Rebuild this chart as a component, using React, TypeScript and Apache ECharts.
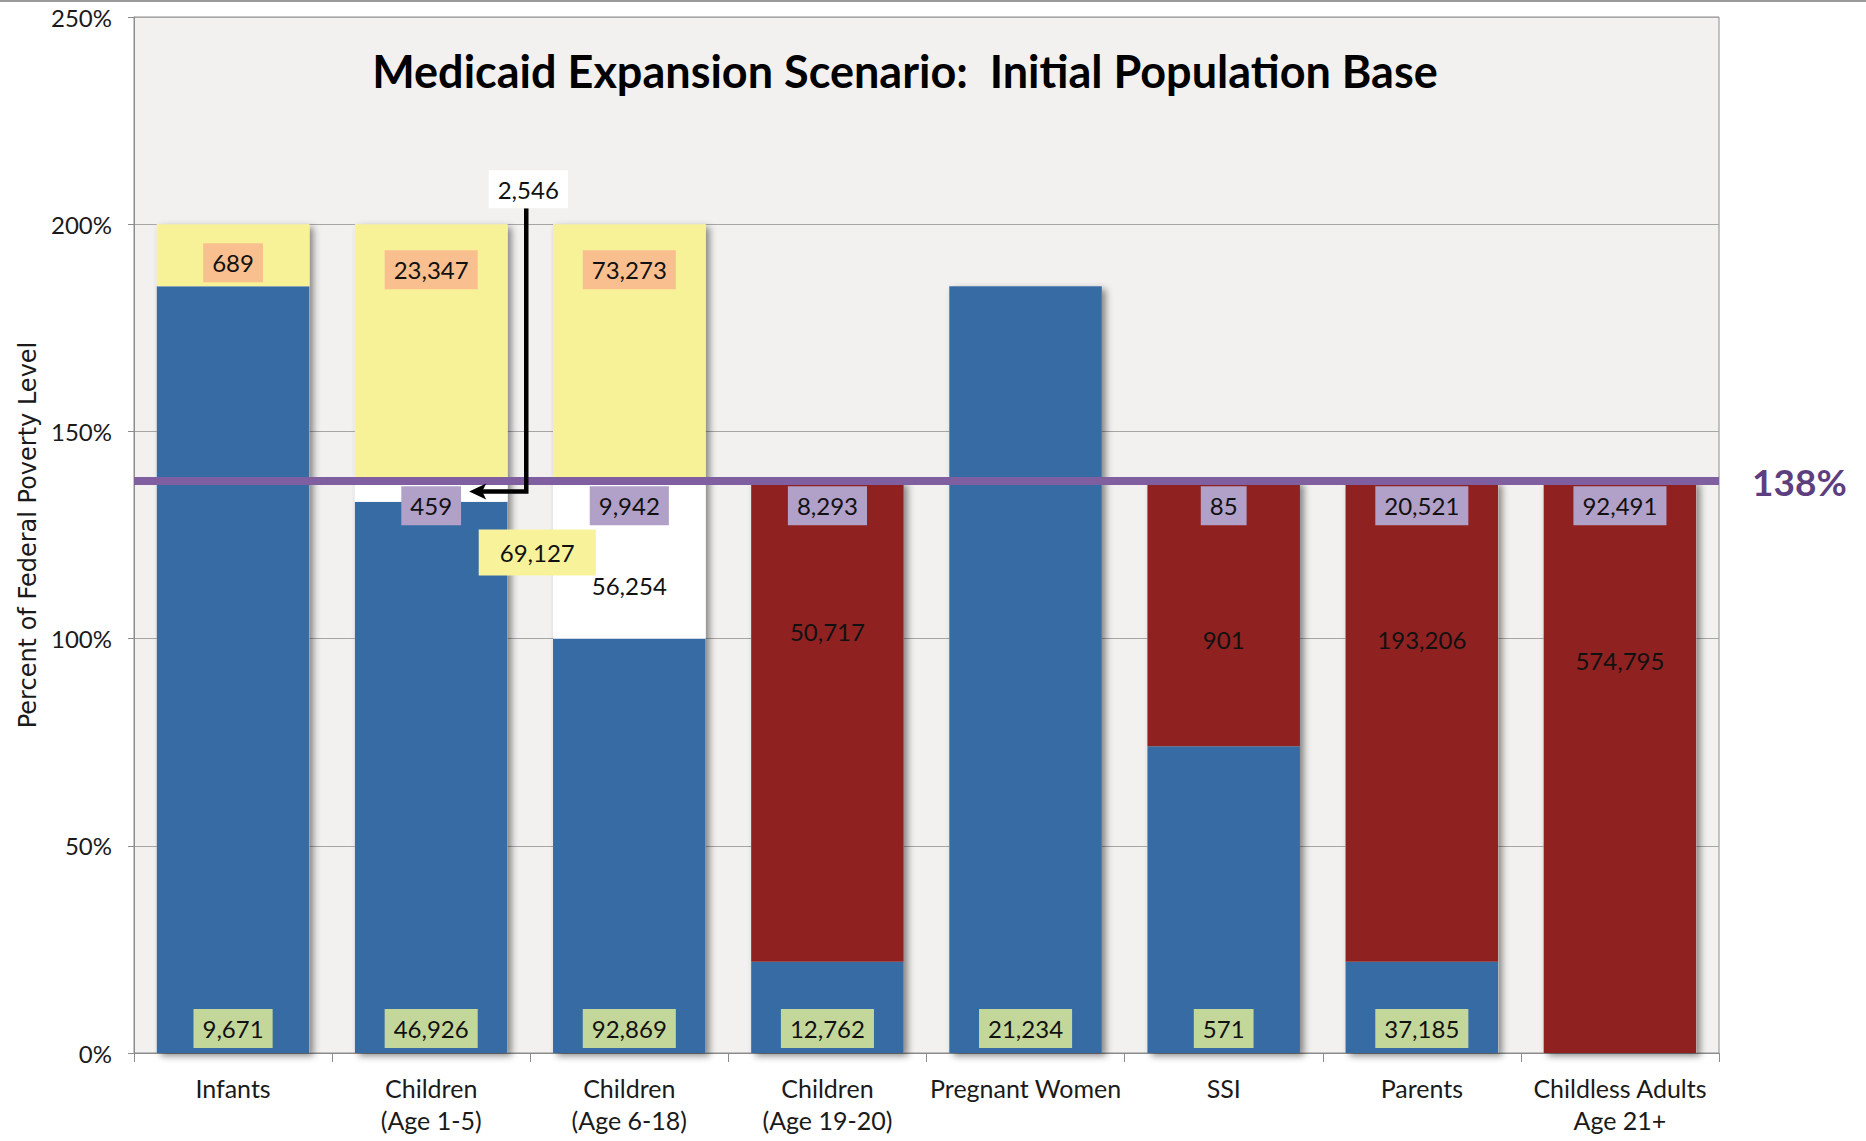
import React, { useEffect, useRef } from 'react';
import * as echarts from 'echarts';

// ---------- Data ----------
const categories = [
  'Infants',
  'Children\n(Age 1-5)',
  'Children\n(Age 6-18)',
  'Children\n(Age 19-20)',
  'Pregnant Women',
  'SSI',
  'Parents',
  'Childless Adults\nAge 21+',
];

// Segment heights in percent of FPL
const currentCoverage = [185, 133, 100, 22, 185, 74, 22, 0]; // blue
const gapToThreshold = [0, 5, 38, 0, 0, 0, 0, 0]; // white
const newlyEligible = [0, 0, 0, 116, 0, 64, 116, 138]; // dark red
const chipAbove = [15, 62, 62, 0, 0, 0, 0, 0]; // yellow
const EXPANSION_LEVEL = 138;

// Population counts shown on the bars
const coveredCounts = [9671, 46926, 92869, 12762, 21234, 571, 37185, null];
const midCounts = [null, null, 56254, 50717, null, 901, 193206, 574795];
const thresholdCounts = [null, 459, 9942, 8293, null, 85, 20521, 92491];
const chipCounts = [689, 23347, 73273, null, null, null, null, null];
const calloutCount = 2546;
const floatingCount = 69127;
const calloutTarget = [1, 135.5]; // category index, % FPL (white segment of Age 1-5)

const yTicks = [0, 50, 100, 150, 200, 250];

// ---------- Styles ----------
const FONT = 'Lato';
const C_BLUE = '#376ba4';
const C_RED = '#8f2121';
const C_YELLOW = '#f7f197';
const C_WHITE = '#ffffff';
const C_BG = '#f2f1f0';
const midLabelOffsets = [0, 0, 104, 150, 0, 158, 158, 179];
const chipLabelDistance = [19, 26, 26, 0, 0, 0, 0, 0];

const fmt = (n: number) => n.toLocaleString('en-US');

const boxLabel = (bg: string) => ({
  show: true,
  color: '#111',
  fontFamily: FONT,
  fontSize: 24,
  lineHeight: 25,
  backgroundColor: bg,
  padding: [7, 9, 7, 9],
});

const totals = categories.map(
  (_, i) => currentCoverage[i] + gapToThreshold[i] + newlyEligible[i] + chipAbove[i]
);

const BAR_W = '77%';

export default function App() {
  const ref = useRef<HTMLDivElement>(null);

  useEffect(() => {
    if (!ref.current) return;
    const chart = echarts.init(ref.current, null, { renderer: 'svg' });

    const option: any = {
      animation: false,
      backgroundColor: '#ffffff',
      title: {
        text: 'Medicaid Expansion Scenario:  Initial Population Base',
        left: 900,
        top: 43,
        textAlign: 'center',
        textStyle: { fontFamily: FONT, fontWeight: 'bold', fontSize: 45, color: '#000' },
      },
      graphic: [
        { type: 'rect', shape: { x: 0, y: 0, width: 1866, height: 2 }, style: { fill: '#9a9a9a' } },
      ],
      grid: {
        left: 134,
        right: 147,
        top: 17,
        bottom: 88,
        show: true,
        backgroundColor: C_BG,
        borderColor: '#8c8c8c',
        borderWidth: 1,
      },
      xAxis: {
        type: 'category',
        data: categories,
        axisLine: { lineStyle: { color: '#8c8c8c' } },
        axisTick: { show: true, length: 9, alignWithLabel: false, lineStyle: { color: '#8c8c8c' } },
        axisLabel: { fontFamily: FONT, fontSize: 25, color: '#1a1a1a', lineHeight: 32, margin: 19, interval: 0 },
      },
      yAxis: {
        type: 'value',
        min: yTicks[0],
        max: yTicks[yTicks.length - 1],
        interval: yTicks[1] - yTicks[0],
        axisLine: { show: true, lineStyle: { color: '#8c8c8c' } },
        axisTick: { show: true, length: 6, lineStyle: { color: '#8c8c8c' } },
        splitLine: { lineStyle: { color: '#a6a6a6' } },
        axisLabel: { formatter: '{value}%', fontFamily: FONT, fontSize: 24, color: '#1a1a1a', margin: 22 },
        name: 'Percent of Federal Poverty Level',
        nameLocation: 'middle',
        nameGap: 94,
        nameTextStyle: { fontFamily: 'DejaVu Sans', fontSize: 24, color: '#1a1a1a' },
      },
      series: [
        {
          name: 'shadow',
          type: 'bar',
          data: totals,
          barWidth: BAR_W,
          barGap: '-100%',
          silent: true,
          z: 1,
          itemStyle: {
            color: C_BG,
            shadowColor: 'rgba(0,0,0,0.45)',
            shadowBlur: 7,
            shadowOffsetX: 4,
            shadowOffsetY: 3,
          },
        },
        {
          name: 'Currently covered',
          type: 'bar',
          stack: 't',
          barWidth: BAR_W,
          barGap: '-100%',
          silent: true,
          itemStyle: { color: C_BLUE },
          data: currentCoverage.map((v, i) =>
            v > 0
              ? {
                  value: v,
                  label:
                    coveredCounts[i] != null
                      ? { ...boxLabel('#c4d79b'), position: 'insideBottom', distance: 5, formatter: fmt(coveredCounts[i] as number) }
                      : { show: false },
                }
              : '-'
          ),
        },
        {
          name: 'Gap to threshold',
          type: 'bar',
          stack: 't',
          barWidth: BAR_W,
          barGap: '-100%',
          silent: true,
          itemStyle: { color: C_WHITE },
          data: gapToThreshold.map((v, i) =>
            v > 0
              ? {
                  value: v,
                  label:
                    midCounts[i] != null
                      ? {
                          show: true,
                          position: ['50%', midLabelOffsets[i]],
                          align: 'center',
                          verticalAlign: 'middle',
                          color: '#111',
                          fontFamily: FONT,
                          fontSize: 24,
                          formatter: fmt(midCounts[i] as number),
                        }
                      : { show: false },
                }
              : '-'
          ),
        },
        {
          name: 'Newly eligible',
          type: 'bar',
          stack: 't',
          barWidth: BAR_W,
          barGap: '-100%',
          silent: true,
          itemStyle: { color: C_RED },
          data: newlyEligible.map((v, i) =>
            v > 0
              ? {
                  value: v,
                  label:
                    midCounts[i] != null
                      ? {
                          show: true,
                          position: ['50%', midLabelOffsets[i]],
                          align: 'center',
                          verticalAlign: 'middle',
                          color: '#111',
                          fontFamily: FONT,
                          fontSize: 24,
                          formatter: fmt(midCounts[i] as number),
                        }
                      : { show: false },
                }
              : '-'
          ),
        },
        {
          name: 'At threshold',
          type: 'bar',
          stack: 't',
          barWidth: BAR_W,
          barGap: '-100%',
          silent: true,
          z: 3,
          itemStyle: { color: 'rgba(0,0,0,0)' },
          data: thresholdCounts.map((c) =>
            c != null
              ? {
                  value: 0,
                  label: { ...boxLabel('#b1a0c7'), position: 'insideTop', distance: 5, formatter: fmt(c) },
                }
              : '-'
          ),
          markLine: {
            silent: true,
            symbol: ['none', 'none'],
            data: [{ yAxis: EXPANSION_LEVEL }],
            lineStyle: { color: '#7f5fa0', width: 8, type: 'solid' },
            label: {
              show: true,
              position: 'end',
              distance: 33,
              formatter: `${EXPANSION_LEVEL}%`,
              fontFamily: FONT,
              fontWeight: 'bold',
              fontSize: 37,
              color: '#5d3f80',
            },
          },
        },
        {
          name: 'CHIP',
          type: 'bar',
          stack: 't',
          barWidth: BAR_W,
          barGap: '-100%',
          silent: true,
          itemStyle: { color: C_YELLOW },
          data: chipAbove.map((v, i) =>
            v > 0
              ? {
                  value: v,
                  label:
                    chipCounts[i] != null
                      ? { ...boxLabel('#fabf8f'), position: 'insideTop', distance: chipLabelDistance[i], formatter: fmt(chipCounts[i] as number) }
                      : { show: false },
                }
              : '-'
          ),
        },
        {
          name: 'callout',
          type: 'custom',
          silent: true,
          z: 5,
          data: [calloutTarget],
          encode: { x: 0, y: 1 },
          renderItem: (params: any, api: any) => {
            const cat = api.value(0);
            const pct = api.value(1);
            const [cx, ty] = api.coord([cat, pct]);
            const bandW = api.coord([cat + 1, pct])[0] - cx;
            const boundary = cx + bandW / 2;
            const lineX = boundary - 4;
            const y200 = api.coord([cat, 200])[1];
            const boxCy = y200 - 35;
            const boxBottom = boxCy + 19;
            const tipX = cx + 38;
            return {
              type: 'group',
              children: [
                {
                  type: 'polyline',
                  shape: { points: [[lineX, boxBottom], [lineX, ty], [tipX + 12, ty]] },
                  style: { stroke: '#000', lineWidth: 4.5, fill: null },
                },
                {
                  type: 'polygon',
                  shape: { points: [[tipX, ty], [tipX + 17, ty - 8], [tipX + 13, ty], [tipX + 17, ty + 8]] },
                  style: { fill: '#000' },
                },
                {
                  type: 'text',
                  x: lineX + 2,
                  y: boxCy,
                  style: {
                    text: fmt(calloutCount),
                    fontFamily: FONT,
                    fontSize: 24,
                    fill: '#111',
                    align: 'center',
                    verticalAlign: 'middle',
                    backgroundColor: '#ffffff',
                    padding: [7, 9, 7, 9],
                  },
                },
                {
                  type: 'text',
                  x: boundary + 7,
                  y: ty + 61,
                  style: {
                    text: fmt(floatingCount),
                    fontFamily: FONT,
                    fontSize: 24,
                    fill: '#111',
                    align: 'center',
                    verticalAlign: 'middle',
                    backgroundColor: '#f8f39b',
                    padding: [11, 21, 11, 21],
                  },
                },
              ],
            };
          },
        },
      ],
    };

    chart.setOption(option);
    return () => chart.dispose();
  }, []);

  return (
    <div
      ref={ref}
      style={{ position: 'fixed', left: 0, top: 0, width: 1866, height: 1141, background: '#fff' }}
    />
  );
}
